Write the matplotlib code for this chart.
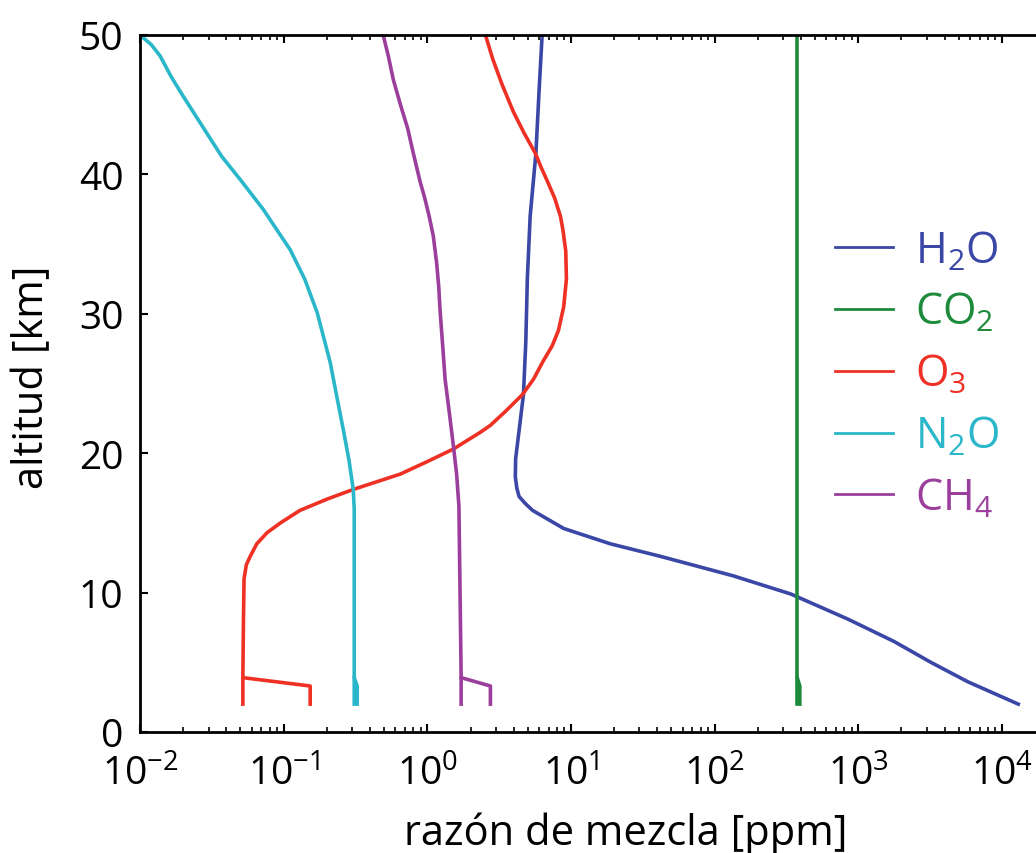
import numpy as np
import matplotlib
matplotlib.use('Agg')
import matplotlib.pyplot as plt
from matplotlib.ticker import LogLocator, NullFormatter

# Perfiles de razón de mezcla (ppm) frente a altitud (km)
h2o_alt = [2.0, 3.6, 5.0, 6.5, 8.1, 9.9, 11.2, 12.6, 13.5, 14.6, 15.3, 15.9,
           16.4, 16.9, 17.5, 18.3, 19.6, 24.2, 28.0, 32.5, 37.0, 41.5, 46.0,
           50.0]
h2o_ppm = [13000, 5800, 3200, 1770, 846, 339, 135, 42, 18.8, 8.9, 6.8, 5.4,
           4.8, 4.35, 4.2, 4.1, 4.12, 4.67, 4.85, 4.97, 5.2, 5.7, 6.0, 6.3]

co2_alt = [2.0, 50.0]
co2_ppm = [376, 376]

o3_alt = [2.0, 3.9, 8.0, 11.0, 12.0, 12.6, 13.5, 14.3, 15.0, 15.9, 16.7, 17.4,
          18.5, 19.4, 20.3, 21.5, 22.0, 23.0, 24.2, 25.3, 26.6, 27.7, 28.8,
          30.5, 32.5, 34.5, 36.0, 37.0, 38.3, 39.5, 40.5, 41.5, 43.0, 44.5,
          46.5, 48.3, 50.0]
o3_ppm = [0.052, 0.052, 0.0525, 0.053, 0.055, 0.0585, 0.065, 0.0767, 0.095,
          0.13, 0.20, 0.305, 0.648, 1.0, 1.52, 2.34, 2.75, 3.5, 4.59, 5.48,
          6.4, 7.4, 8.18, 8.9, 9.3, 9.2, 8.8, 8.45, 7.7, 6.86, 6.2, 5.66, 4.7,
          3.97, 3.3, 2.85, 2.54]

n2o_alt = [2.0, 10.0, 16.0, 17.4, 19.5, 21.7, 24.0, 26.5, 28.3, 30.1, 32.5,
           34.6, 36.0, 37.5, 39.5, 41.3, 43.5, 45.6, 47.0, 48.5, 49.3, 50.0]
n2o_ppm = [0.31, 0.31, 0.31, 0.305, 0.285, 0.26, 0.235, 0.211, 0.19, 0.171,
           0.14, 0.111, 0.09, 0.072, 0.051, 0.037, 0.027, 0.020, 0.0165,
           0.0138, 0.012, 0.010]

ch4_alt = [2.0, 4.0, 16.2, 18.5, 20.5, 23.0, 25.3, 27.7, 30.1, 32.0, 33.7,
           35.6, 37.0, 38.3, 39.5, 41.5, 43.3, 45.0, 46.8, 48.5, 50.0]
ch4_ppm = [1.72, 1.72, 1.66, 1.60, 1.52, 1.42, 1.33, 1.28, 1.23, 1.20, 1.16,
           1.10, 1.03, 0.96, 0.89, 0.80, 0.73, 0.65, 0.58, 0.535, 0.493]

# pequeños "ganchos" cerca de la superficie
hook_alt = [3.9, 3.3, 2.0]
o3_hook = [0.052, 0.153, 0.153]
n2o_hook = [0.31, 0.325, 0.325]
ch4_hook = [1.72, 2.75, 2.75]
co2_hook = [376, 392, 392]

x_ticks = [1e-2, 1e-1, 1e0, 1e1, 1e2, 1e3, 1e4]
y_ticks = [0, 10, 20, 30, 40, 50]

names = ['H$_2$O', 'CO$_2$', 'O$_3$', 'N$_2$O', 'CH$_4$']
colors = ['#3b47a6', '#1e8b3c', '#ee3124', '#2ab7ca', '#9b3e9c']

plt.rcParams['font.family'] = ['Open Sans', 'DejaVu Sans']
plt.rcParams['mathtext.fontset'] = 'custom'
plt.rcParams['mathtext.rm'] = 'Open Sans'
plt.rcParams['mathtext.it'] = 'Open Sans:italic'
plt.rcParams['mathtext.default'] = 'rm'
plt.rcParams['axes.unicode_minus'] = False

fig = plt.figure(figsize=(10.36, 8.54), dpi=100)
ax = fig.add_axes([140 / 1036, 121 / 854, 905 / 1036, 697 / 854])

lw = 2.6
profiles = [(h2o_ppm, h2o_alt), (co2_ppm, co2_alt), (o3_ppm, o3_alt),
            (n2o_ppm, n2o_alt), (ch4_ppm, ch4_alt)]
for (xs, ys), name, c in zip(profiles, names, colors):
    ax.plot(xs, ys, color=c, lw=lw, label=name, solid_joinstyle='round')

ax.plot(co2_hook, hook_alt, color=colors[1], lw=lw)
ax.plot(o3_hook, hook_alt, color=colors[2], lw=lw)
ax.plot(n2o_hook, hook_alt, color=colors[3], lw=lw)
ax.plot(ch4_hook, hook_alt, color=colors[4], lw=lw)

ax.set_xscale('log')
ax.set_xlim(1e-2, 10 ** 4.3)
ax.set_ylim(0, 50)
ax.set_xticks(x_ticks)
ax.set_yticks(y_ticks)
ax.xaxis.set_minor_locator(LogLocator(base=10, subs=np.arange(2, 10)))
ax.xaxis.set_minor_formatter(NullFormatter())

for s in ax.spines.values():
    s.set_linewidth(2.0)

ax.tick_params(which='major', direction='in', length=6, width=1.5,
               top=True, right=True, labelsize=28, pad=12)
ax.tick_params(axis='x', which='major', pad=16)
ax.tick_params(which='minor', direction='in', length=3.5, width=1.2,
               top=True, right=True)

ax.set_xlabel('razón de mezcla [ppm]', fontsize=30)
ax.xaxis.set_label_coords((626 - 140) / 905, -0.114)
ax.set_ylabel('altitud [km]', fontsize=30)
ax.yaxis.set_label_coords(-0.096, 0.51)

leg = ax.legend(loc='upper left', bbox_to_anchor=(835 / 1036, 1 - 230 / 854),
                bbox_transform=fig.transFigure, frameon=False, fontsize=31,
                handlelength=1.35, handletextpad=0.5, labelspacing=0.4,
                borderpad=0, borderaxespad=0, labelcolor='linecolor')
for line in leg.get_lines():
    line.set_linewidth(2.0)

fig.savefig('out.png', dpi=100)
